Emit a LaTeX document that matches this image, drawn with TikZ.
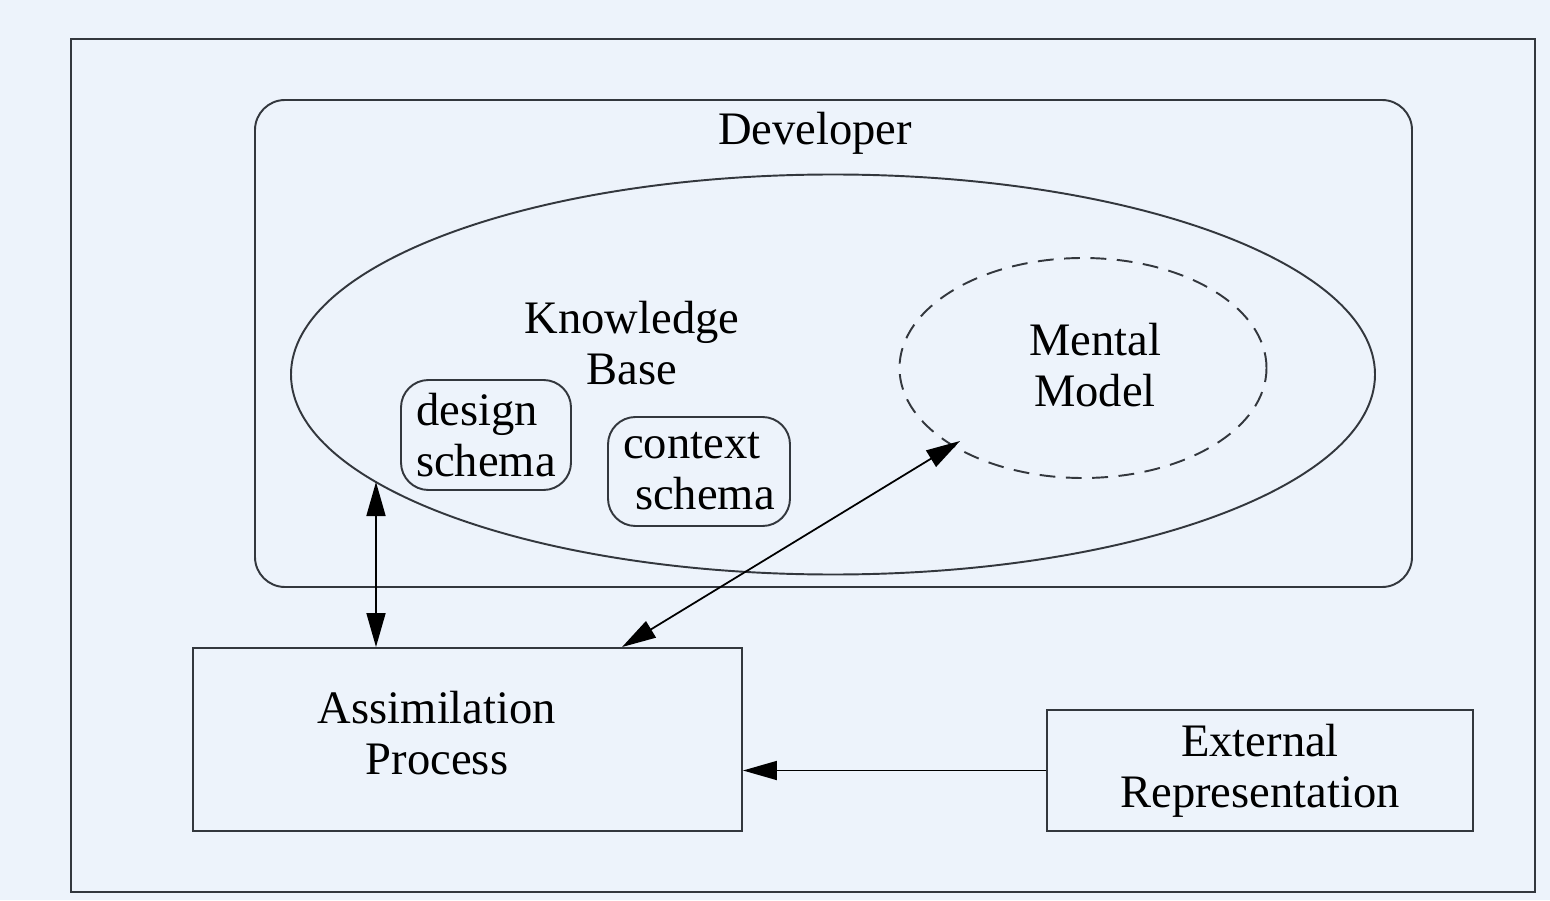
\documentclass[tikz,border=0pt]{standalone}
\usepackage{fontspec}
\setmainfont{Liberation Serif}
\usetikzlibrary{arrows.meta,positioning,calc,shapes.geometric}
\definecolor{bgc}{HTML}{EDF3FB}
\definecolor{linec}{HTML}{33373D}
\tikzset{
  txt/.style={align=center, font=\fontsize{26.5}{29}\selectfont, inner sep=0pt},
  box/.style={draw=linec, line width=1.1pt, inner sep=0pt},
  schema/.style={box, rounded corners=0.55cm, txt, align=left},
  arr/.style={-{Triangle[length=0.68cm, width=0.38cm]}, line width=1pt, draw=black},
  dblarr/.style={{Triangle[length=0.68cm, width=0.38cm]}-{Triangle[length=0.68cm, width=0.38cm]}, line width=1pt, draw=black},
}
\begin{document}
\begin{tikzpicture}
  \fill[bgc] (0,0) rectangle (31,18);
  \useasboundingbox (0,0) rectangle (31,18);
  % frames
  \draw[box] (1.42,0.16) rectangle (30.7,17.22);
  \draw[box, rounded corners=0.6cm] (5.1,6.26) rectangle (28.24,16.0);
  \node[txt] (dev) at (16.3,15.34) {Developer};
  % knowledge base
  \node[box, ellipse, minimum width=21.68cm, minimum height=8cm] (kb) at (16.66,10.51) {};
  \node[txt] (kbtxt) at (12.64,11.14) {Knowledge\\Base};
  \node[schema, minimum width=3.4cm, minimum height=2.2cm] (design) at (9.72,9.3) {design\\schema};
  \node[schema, minimum width=3.64cm, minimum height=2.18cm] (context) at (13.98,8.57) {context\\\hspace{0.24cm}schema};
  \node[box, ellipse, dash pattern=on 9pt off 6pt, minimum width=7.34cm, minimum height=4.4cm] (mm) at (21.66,10.64) {};
  \node[txt] (mmtxt) at (21.9,10.7) {Mental\\Model};
  \coordinate (kbin) at (7.52,8.36);
  \coordinate (mmin) at ($(mm.center)+(-2.46,-1.46)$);
  % lower boxes
  \node[box, minimum width=10.98cm, minimum height=3.66cm] (assim) at (9.35,3.21) {};
  \node[txt] (assimtxt) at (8.74,3.34) {Assimilation\\Process};
  \node[box, txt, minimum width=8.52cm, minimum height=2.42cm] (ext) at (25.2,2.59) {External\\Representation};
  % connectors
  \draw[dblarr] (kbin) -- (kbin |- assim.north);
  \draw[dblarr] (12.44,0 |- assim.north) -- (mmin);
  \draw[arr] (ext.west) -- (ext.west -| assim.east);
\end{tikzpicture}
\end{document}
